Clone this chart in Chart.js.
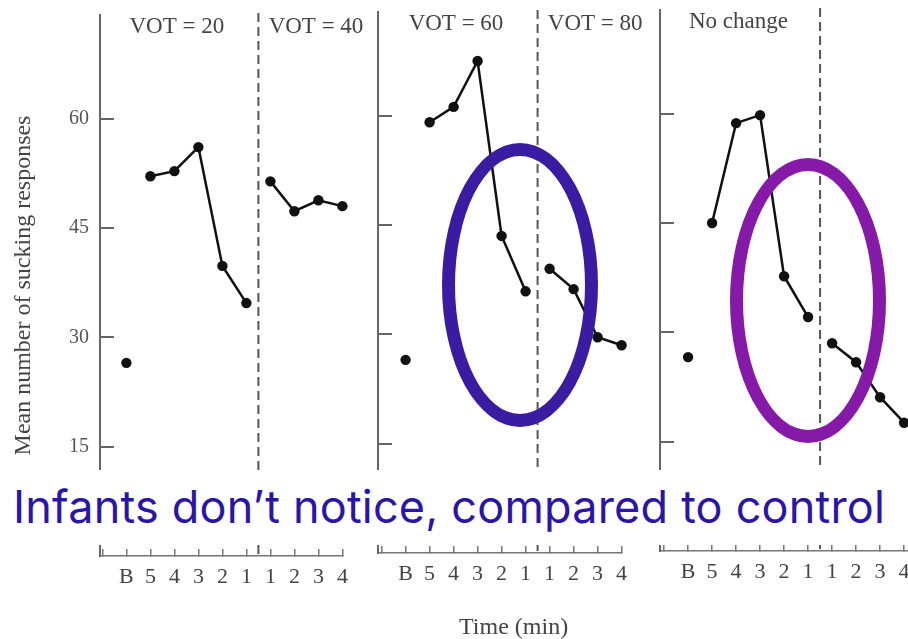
<!DOCTYPE html>
<html>
<head>
<meta charset="utf-8">
<script src="https://cdn.jsdelivr.net/npm/chart.js@4.4.0/dist/chart.umd.min.js"></script>
<style>
  html, body { margin: 0; padding: 0; background: #fff; }
  body { position: relative; width: 908px; height: 639px; overflow: hidden; }
  canvas { position: absolute; }
  #band { position: absolute; left: 0; top: 470px; width: 908px; height: 75px; background: #fff; }
  #note {
    position: absolute; left: 13px; top: 484px; margin: 0; letter-spacing: 0.2px;
    font: 45px/45px Inter, "Liberation Sans", sans-serif; color: #2b15a8; white-space: nowrap;
  }
  .ring { position: absolute; box-sizing: border-box; border-radius: 50%; border: 13px solid; }
  #ringBlue { left: 442px; top: 143px; width: 156px; height: 284px; border-color: #3a1ca3; }
  #ringPurple { left: 730px; top: 158px; width: 156px; height: 285px; border-color: #861aa8; }
</style>
</head>
<body>
<canvas id="c1"></canvas>
<canvas id="c2"></canvas>
<canvas id="c3"></canvas>
<div id="band"></div>
<p id="note">Infants don’t notice, compared to control</p>
<div class="ring" id="ringBlue"></div>
<div class="ring" id="ringPurple"></div>

<script>
// ── Data ──────────────────────────────────────────
const timeLabels = ['B', '5', '4', '3', '2', '1', '1', '2', '3', '4'];
const yTickValues = [15, 30, 45, 60];

const vot20Baseline = 26.5;
const vot20Pre = [52.1, 52.8, 56.1, 39.8, 34.7];
const vot40Post = [51.4, 47.3, 48.8, 48.0];

const vot60Baseline = 26.5;
const vot60Pre = [59.1, 61.2, 67.5, 43.5, 35.9];
const vot80Post = [39.0, 36.2, 29.6, 28.5];

const controlBaseline = 26.6;
const controlPre = [45.0, 58.7, 59.8, 37.7, 32.1];
const controlPost = [28.5, 25.9, 21.1, 17.6];

// ── Layout ────────────────────────────────────────
const PX_PER_MIN = 24;
const AREA_TOP = 15;
const AREA_BOTTOM = 556;
const PAD_RIGHT = 34;
const SERIF = "'Liberation Serif', 'DejaVu Serif', serif";
const INK = '#111';

const panels = [
  { id: 'c1', left: 0, top: 0, height: 639, axisW: 100, xMin: -1.1, xMax: 9,
    base: vot20Baseline, pre: vot20Pre, post: vot40Post,
    headers: ['VOT = 20', 'VOT = 40'], yLabels: true },
  { id: 'c2', left: 366, top: -3, height: 645, axisW: 12, xMin: -1.15, xMax: 9,
    base: vot60Baseline, pre: vot60Pre, post: vot80Post,
    headers: ['VOT = 60', 'VOT = 80'], footer: 'Time (min)' },
  { id: 'c3', left: 648, top: -5, height: 645, axisW: 12, xMin: -1.17, xMax: 9.6,
    base: controlBaseline, pre: controlPre, post: controlPost,
    headers: ['No change'] },
];

// dashed switch line, panel headers, footer title
const panelDeco = {
  id: 'panelDeco',
  beforeDatasetsDraw(chart, args, opts) {
    const { ctx, chartArea, scales: { x } } = chart;
    ctx.save();
    const sx = x.getPixelForValue(5.5);
    ctx.strokeStyle = '#555';
    ctx.lineWidth = 2;
    ctx.setLineDash([9, 5]);
    ctx.beginPath();
    ctx.moveTo(sx, chartArea.top - 2);
    ctx.lineTo(sx, chartArea.bottom);
    ctx.stroke();
    ctx.setLineDash([]);

    ctx.fillStyle = '#444';
    ctx.font = '23px ' + SERIF;
    ctx.textAlign = 'center';
    ctx.textBaseline = 'middle';
    const hx = [2.1, 7.9];
    (opts.headers || []).forEach((t, i) => {
      ctx.fillText(t, x.getPixelForValue(hx[i]), chartArea.top + 12);
    });
    if (opts.footer) {
      ctx.font = '24px ' + SERIF;
      ctx.fillText(opts.footer, x.getPixelForValue(4.5), chart.height - 14);
    }
    ctx.restore();
  }
};

function lineSet(points) {
  return {
    data: points,
    borderColor: INK,
    borderWidth: 2.5,
    pointRadius: 5.2,
    pointBackgroundColor: INK,
    pointBorderWidth: 0,
    tension: 0,
    clip: false
  };
}

panels.forEach(p => {
  const canvas = document.getElementById(p.id);
  const areaW = (p.xMax - p.xMin) * PX_PER_MIN;
  canvas.width = Math.round(p.axisW + areaW + PAD_RIGHT);
  canvas.height = p.height;
  canvas.style.left = p.left + 'px';
  canvas.style.top = p.top + 'px';

  const n = p.pre.length;
  const datasets = [
    lineSet([{ x: 0, y: p.base }]),
    lineSet(p.pre.map((y, i) => ({ x: i + 1, y }))),
    lineSet(p.post.map((y, i) => ({ x: i + 1 + n, y })))
  ];

  new Chart(canvas, {
    type: 'line',
    data: { datasets },
    plugins: [panelDeco],
    options: {
      responsive: false,
      animation: false,
      layout: { padding: { top: AREA_TOP, right: canvas.width - p.axisW - areaW, bottom: 0, left: 0 } },
      plugins: {
        legend: { display: false },
        tooltip: { enabled: false },
        panelDeco: { headers: p.headers, footer: p.footer }
      },
      scales: {
        x: {
          type: 'linear',
          min: p.xMin,
          max: p.xMax,
          afterBuildTicks: s => {
            s.ticks = [-1].concat(timeLabels.map((_, i) => i)).map(v => ({ value: v }));
          },
          afterFit: s => { s.height = p.height - AREA_BOTTOM; s.paddingLeft = 0; s.paddingRight = 0; },
          ticks: {
            autoSkip: false, maxRotation: 0, padding: 15, color: '#444',
            font: { family: SERIF, size: 22 },
            callback: v => (v >= 0 ? timeLabels[v] : '')
          },
          grid: { drawOnChartArea: false, drawTicks: true, tickLength: -7, color: '#777', lineWidth: 1.5 },
          border: { color: '#777', width: 1.5 }
        },
        y: {
          min: 0,
          max: (AREA_BOTTOM - AREA_TOP) / 7.289,
          afterBuildTicks: s => { s.ticks = yTickValues.map(v => ({ value: v })); },
          afterFit: s => { s.width = p.axisW; s.paddingTop = 0; s.paddingBottom = 0; },
          ticks: { display: !!p.yLabels, padding: 25, color: '#555', font: { family: SERIF, size: 20 } },
          grid: { drawOnChartArea: false, drawTicks: true, tickLength: -14, color: '#666', lineWidth: 2 },
          border: { color: '#666', width: 2 },
          title: {
            display: !!p.yLabels,
            text: 'Mean number of sucking responses',
            color: '#444',
            font: { family: SERIF, size: 24 },
            padding: { top: 9, bottom: 0 }
          }
        }
      }
    }
  });
});
</script>
</body>
</html>
